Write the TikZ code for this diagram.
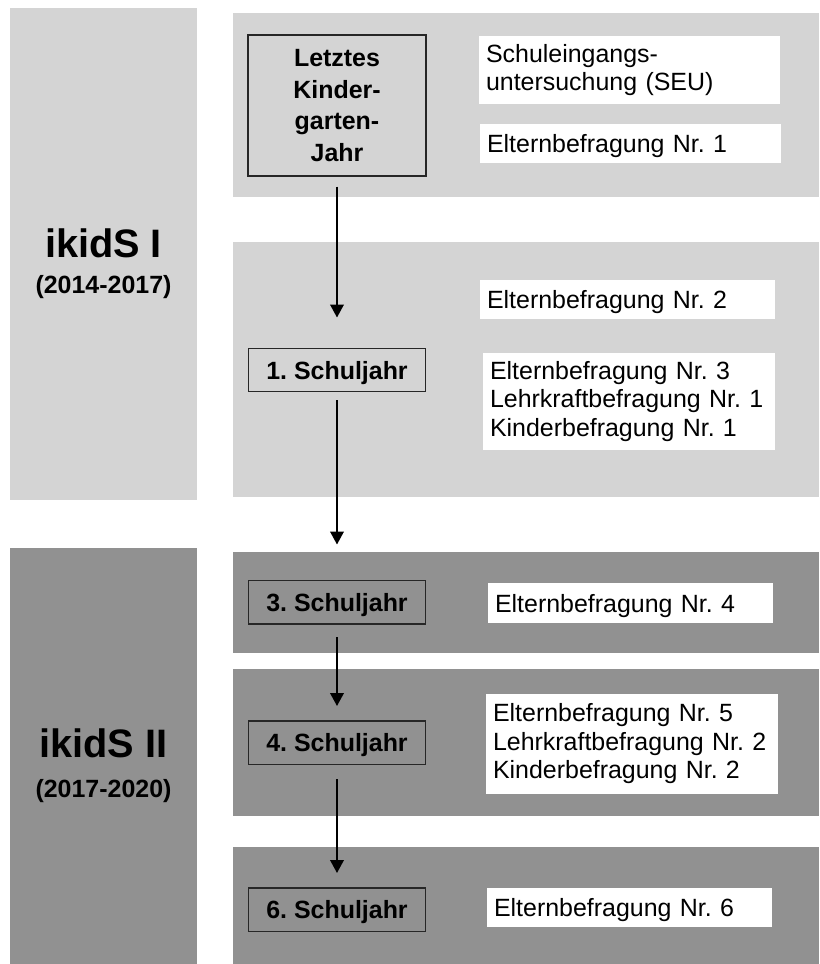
\documentclass[tikz,border=0pt]{standalone}
\usepackage{fontspec}
\setmainfont{Liberation Sans}
\usetikzlibrary{arrows.meta}
\frenchspacing

\definecolor{lightpanel}{gray}{0.83}
\definecolor{darkpanel}{gray}{0.57}

\begin{document}
\begin{tikzpicture}[x=0.02cm,y=-0.02cm,>={Triangle[length=0.26cm,width=0.27cm]},
    year node/.style={draw=black!85,line width=0.85pt,minimum width=3.54cm,minimum height=0.87cm,
                      inner sep=0pt,text depth=0pt,align=center,font=\fontsize{14.2}{18}\selectfont\bfseries},
    info node/.style={fill=white,inner xsep=0.14cm,inner ysep=0pt,align=left,
                      font=\fontsize{14.2}{16.2}\selectfont},
    one line/.style={info node,text depth=0pt,minimum height=0.78cm},
    title node/.style={anchor=base,font=\fontsize{22.6}{27}\selectfont\bfseries},
    period node/.style={anchor=base,font=\fontsize{14.2}{17}\selectfont\bfseries}]

  \useasboundingbox (0,0) rectangle (819,964);

  % panels
  \fill[lightpanel] (10,8) rectangle (197,500);
  \fill[darkpanel] (10,548) rectangle (197,964);
  \fill[lightpanel] (233,13) rectangle (819,197);
  \fill[lightpanel] (233,242) rectangle (819,497);
  \fill[darkpanel] (233,552) rectangle (819,653);
  \fill[darkpanel] (233,669) rectangle (819,816);
  \fill[darkpanel] (233,847) rectangle (819,964);

  % project phases
  \node[title node] (phase1) at (103.5,257) {ikidS I};
  \node[period node] (period1) at (103.5,293) {(2014-2017)};
  \node[title node] (phase2) at (103.5,757) {ikidS II};
  \node[period node] (period2) at (103.5,797) {(2017-2020)};

  % school years
  \node[year node,minimum width=3.56cm,minimum height=2.82cm] (kg) at (337,105.5)
        {Letztes\\Kinder-\\garten-\\Jahr};
  \node[year node] (s1) at (337,370) {1. Schuljahr};
  \node[year node] (s3) at (337,602) {3. Schuljahr};
  \node[year node] (s4) at (337,742.5) {4. Schuljahr};
  \node[year node] (s6) at (337,909.5) {6. Schuljahr};

  % surveys
  \node[info node,text width=5.74cm,minimum height=1.38cm] (seu) at (629.5,70)
        {Schuleingangs-\\untersuchung (SEU)};
  \node[one line,text width=5.74cm] (e1) at (630.5,143.5) {Elternbefragung Nr. 1};
  \node[one line,text width=5.62cm] (e2) at (627.5,299.5) {Elternbefragung Nr. 2};
  \node[info node,text width=5.56cm,minimum height=1.94cm] (e3) at (629,401.5)
        {Elternbefragung Nr. 3\\Lehrkraftbefragung Nr. 1\\Kinderbefragung Nr. 1};
  \node[one line,text width=5.42cm,minimum height=0.80cm] (e4) at (630.5,603) {Elternbefragung Nr. 4};
  \node[info node,text width=5.56cm,minimum height=2.00cm] (e5) at (632,744)
        {Elternbefragung Nr. 5\\Lehrkraftbefragung Nr. 2\\Kinderbefragung Nr. 2};
  \node[one line,text width=5.42cm] (e6) at (629.5,907.5) {Elternbefragung Nr. 6};

  % progression
  \path[->,line width=1.2pt]
    (kg) edge[shorten <=0.2cm,shorten >=0.6cm] (s1)
    (s1) edge[shorten <=0.16cm,shorten >=0.7cm] (s3)
    (s3) edge[shorten <=0.26cm,shorten >=0.28cm] (s4)
    (s4) edge[shorten <=0.28cm,shorten >=0.28cm] (s6);
\end{tikzpicture}
\end{document}
